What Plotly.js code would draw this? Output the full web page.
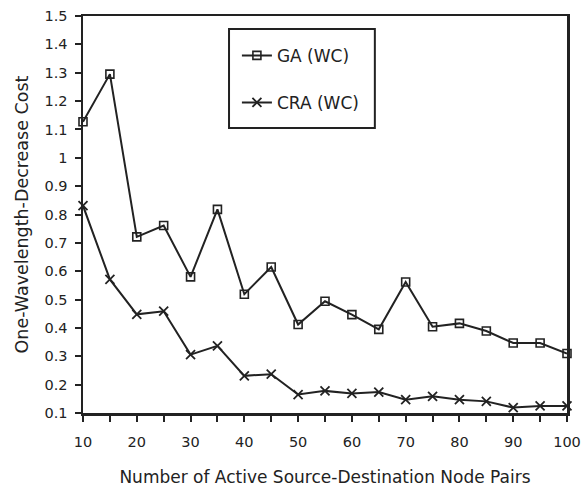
<!DOCTYPE html>
<html>
<head>
<meta charset="utf-8">
<script src="https://cdn.plot.ly/plotly-3.0.1.min.js"></script>
<style>
  html, body { margin: 0; padding: 0; background: #fff; }
  #chart { width: 584px; height: 492px; }
</style>
</head>
<body>
<div id="chart"></div>
<script>
// Number of active source-destination node pairs
const nodePairs = [10, 15, 20, 25, 30, 35, 40, 45, 50, 55, 60, 65, 70, 75, 80, 85, 90, 95, 100];

// One-wavelength-decrease cost per algorithm
const gaCost  = [1.127, 1.295, 0.721, 0.761, 0.58, 0.818, 0.519, 0.615, 0.412, 0.494, 0.447, 0.395, 0.562, 0.404, 0.416, 0.389, 0.347, 0.347, 0.31];
const craCost = [0.831, 0.571, 0.448, 0.459, 0.306, 0.337, 0.231, 0.237, 0.165, 0.178, 0.169, 0.174, 0.147, 0.159, 0.147, 0.141, 0.119, 0.125, 0.125];

const seriesNames = ['GA (WC)', 'CRA (WC)'];

const ink = '#222';
const fontFamily = 'DejaVu Sans, Liberation Sans, sans-serif';

const traces = [
  {
    x: nodePairs, y: gaCost, name: seriesNames[0],
    type: 'scatter', mode: 'lines+markers', cliponaxis: false,
    legendgroup: 'ga',
    line: { color: ink, width: 2 },
    marker: { symbol: 'square-open', size: 8, color: ink, line: { width: 1.6, color: ink } }
  },
  {
    x: nodePairs, y: craCost, name: seriesNames[1],
    type: 'scatter', mode: 'lines+markers', cliponaxis: false,
    legendgroup: 'cra',
    line: { color: ink, width: 2 },
    marker: { symbol: 'x-thin-open', size: 9, color: ink, line: { width: 1.8, color: ink } }
  }
];

const layout = {
  width: 584, height: 492,
  margin: { l: 83, r: 17, t: 16, b: 79 },
  paper_bgcolor: '#fff', plot_bgcolor: '#fff',
  font: { family: fontFamily, color: ink, size: 14 },
  showlegend: true,
  legend: {
    x: 0.318, y: 0.945, xanchor: 'left', yanchor: 'top',
    bgcolor: 'rgba(0,0,0,0)', borderwidth: 0,
    traceorder: 'grouped', tracegroupgap: 22,
    font: { family: fontFamily, size: 17, color: ink }
  },
  xaxis: {
    range: [10, 100], dtick: 10, tick0: 10,
    showgrid: false, zeroline: false,
    showline: true, linecolor: ink, linewidth: 2.5, mirror: true,
    ticks: 'outside', ticklen: 6, tickwidth: 2, tickcolor: ink,
    ticklabelstandoff: 8,
    minor: { dtick: 5, ticks: 'outside', ticklen: 6, tickwidth: 2, tickcolor: ink },
    tickfont: { size: 14.5, family: fontFamily, color: ink },
    title: { text: 'Number of Active Source-Destination Node Pairs', font: { size: 17, family: fontFamily, color: ink }, standoff: 22 }
  },
  yaxis: {
    range: [0.1, 1.5], dtick: 0.1, tick0: 0.1,
    showgrid: false, zeroline: false,
    showline: true, linecolor: ink, linewidth: 2.5, mirror: true,
    ticks: 'outside', ticklen: 6, tickwidth: 2, tickcolor: ink,
    ticklabelstandoff: 4,
    tickfont: { size: 14.5, family: fontFamily, color: ink },
    tickformat: '~g',
    title: { text: 'One-Wavelength-Decrease Cost', font: { size: 17.5, family: fontFamily, color: ink }, standoff: 12 }
  },
  shapes: [
    {
      type: 'rect', xref: 'paper', yref: 'paper',
      x0: 0.3017, x1: 0.603, y0: 0.718, y1: 0.967,
      line: { color: ink, width: 2 }, fillcolor: 'rgba(0,0,0,0)'
    }
  ]
};

Plotly.newPlot('chart', traces, layout, { staticPlot: true, displayModeBar: false });
</script>
</body>
</html>
